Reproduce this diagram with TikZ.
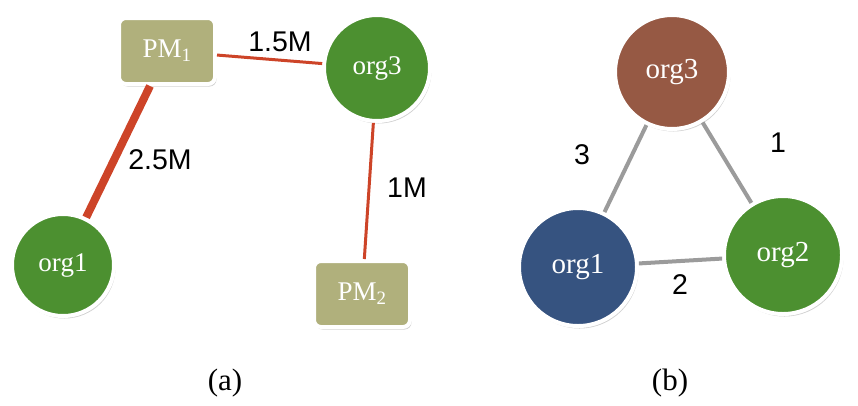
\documentclass[tikz,border=0pt]{standalone}
\usepackage{fontspec}
\setmainfont{Liberation Serif}
\newfontfamily\lblfont{Liberation Sans}
\usetikzlibrary{shadows}
\definecolor{orggreen}{RGB}{76,144,48}
\definecolor{orgbrown}{RGB}{150,89,68}
\definecolor{orgblue}{RGB}{54,83,128}
\definecolor{pmolive}{RGB}{176,176,124}
\definecolor{edgered}{RGB}{205,68,40}
\definecolor{edgegray}{RGB}{155,155,155}
\tikzset{
  nshadow/.style={drop shadow={shadow xshift=1.5pt,shadow yshift=-2.5pt,opacity=0.3,fill=black!60}},
  orgnode/.style={circle,draw=white,line width=4pt,text=white,inner sep=0pt,nshadow,font=\fontsize{27}{30}\selectfont},
  pmnode/.style={rectangle,rounded corners=7pt,draw=white,line width=4pt,fill=pmolive,text=white,
     minimum width=96pt,minimum height=66pt,inner sep=0pt,nshadow,font=\fontsize{27}{30}\selectfont},
  redge/.style={draw=edgered,line width=3pt},
  gedge/.style={draw=edgegray,line width=4pt},
  elabel/.style={font=\lblfont\fontsize{28.5}{30}\selectfont,text=black,inner sep=0pt},
  caption/.style={font=\fontsize{31}{34}\selectfont,inner sep=0pt}
}
\begin{document}
\begin{tikzpicture}[x=1pt,y=-1pt]
\useasboundingbox (0,0) rectangle (858,405);
% (a)
\node[pmnode] (pm1) at (167,51) {PM\textsubscript{1}};
\node[orgnode,fill=orggreen,minimum size=106pt] (aorg3) at (377,68) {org3};
\node[orgnode,fill=orggreen,minimum size=102pt] (aorg1) at (63,265) {org1};
\node[pmnode] (pm2) at (362,294) {PM\textsubscript{2}};
\draw[redge,line width=8pt] (pm1) -- (aorg1);
\draw[redge] (pm1) -- (aorg3);
\draw[redge] (aorg3) -- (pm2);
\node[elabel] (l15) at (280,42) {1.5M};
\node[elabel] (l25) at (160,160) {2.5M};
\node[elabel] (l1m) at (407,188) {1M};
% (b)
\node[orgnode,fill=orgbrown,minimum size=114pt,font=\fontsize{29}{32}\selectfont] (borg3) at (672,72) {org3};
\node[orgnode,fill=orgblue,minimum size=118pt,font=\fontsize{29}{32}\selectfont] (borg1) at (578,267) {org1};
\node[orgnode,fill=orggreen,minimum size=118pt,font=\fontsize{29}{32}\selectfont] (borg2) at (783,255) {org2};
\draw[gedge] (borg3) -- (borg1);
\draw[gedge] (borg3) -- (borg2);
\draw[gedge] (borg1) -- (borg2);
\node[elabel] (l3) at (582,155) {3};
\node[elabel] (l1) at (778,143) {1};
\node[elabel] (l2) at (680,285) {2};
% captions
\node[caption] (capa) at (225,383) {(a)};
\node[caption] (capb) at (670,383) {(b)};
\end{tikzpicture}
\end{document}
